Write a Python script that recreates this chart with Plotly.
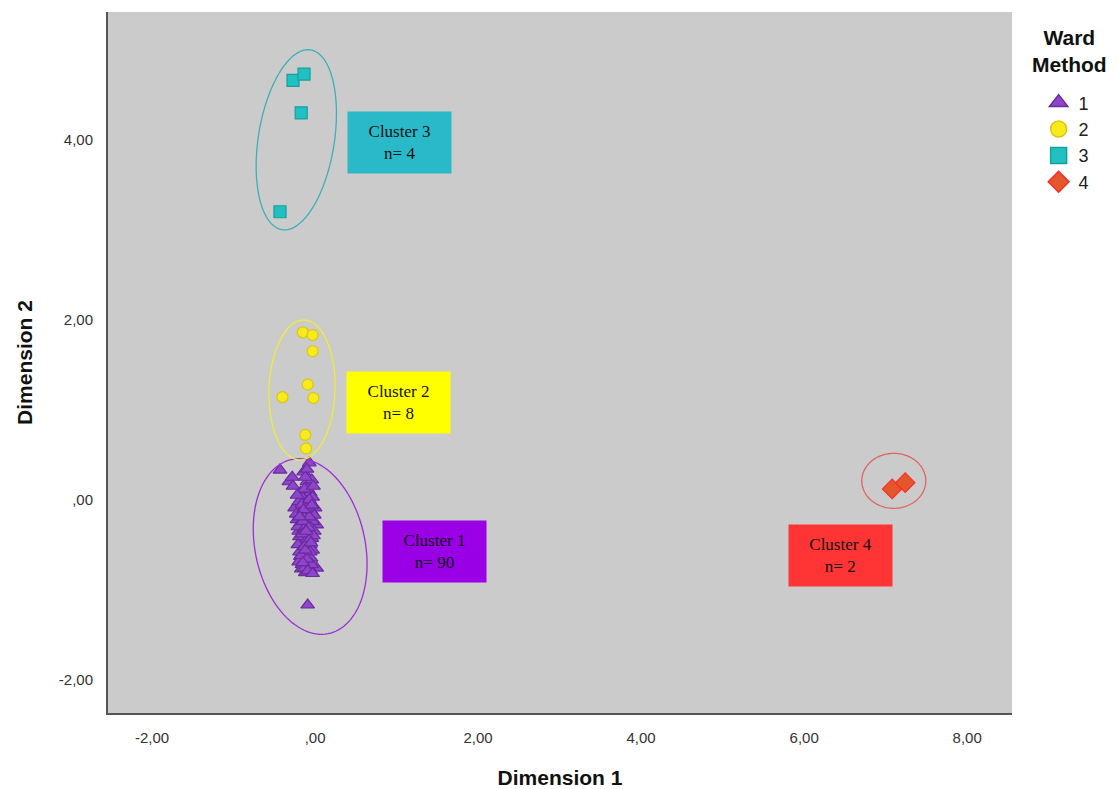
import numpy as np
import plotly.graph_objects as go

# Ward clustering of MDS coordinates (Dimension 1, Dimension 2)
c1_x = [-0.43, -0.14, -0.07, -0.32, -0.27, -0.10, -0.04, -0.18, -0.06, -0.25,
        -0.10, 0.00, -0.22, -0.06, 0.02, -0.20, -0.08, -0.16, -0.06, -0.18,
        -0.08, -0.16, -0.12, 0.02, -0.06, -0.09,
        -0.12, -0.09, -0.15, -0.03, -0.20, -0.12, -0.05, -0.17, -0.09, -0.01,
        -0.23, -0.13, -0.03, -0.18, -0.10, -0.05, -0.21, -0.14, -0.01, -0.11,
        -0.19, -0.04, -0.12, -0.21, -0.09, -0.15, -0.03, -0.19, -0.11, -0.05,
        -0.14, -0.20, -0.09, -0.17, -0.08, -0.13, -0.04, -0.16, -0.07, -0.13,
        -0.02, -0.22, -0.10, -0.28, -0.11, -0.07, -0.15, -0.02, -0.16, -0.07,
        -0.13, -0.06, -0.17, -0.10, -0.12, -0.08, -0.14, -0.04, -0.19, -0.11,
        -0.05, -0.15, -0.09, -0.03]
c1_y = [0.33, 0.31, 0.41, 0.20, 0.15, 0.20, 0.22, 0.08, 0.08, -0.09,
        -0.07, -0.09, -0.22, -0.22, -0.28, -0.35, -0.37, -0.46, -0.50, -0.63,
        -0.63, -0.72, -0.81, -0.76, -0.78, -1.17,
        0.25, 0.12, 0.02, 0.03, -0.02, -0.04, -0.12, -0.13, -0.15, -0.17,
        -0.16, -0.20, -0.24, -0.26, -0.28, -0.31, -0.30, -0.33, -0.35, -0.40,
        -0.41, -0.43, -0.47, -0.50, -0.53, -0.55, -0.56, -0.58, -0.60, -0.65,
        -0.67, -0.69, -0.70, -0.77, -0.74, -0.76, -0.72, -0.05, 0.00, 0.12,
        0.15, 0.05, 0.34, 0.25, -0.10, -0.19, -0.24, -0.40, -0.38, -0.45,
        -0.52, -0.58, -0.62, -0.66, -0.56, -0.31, -0.11, -0.06, -0.19, -0.35,
        -0.48, -0.70, -0.79, -0.82]

c2_x = [-0.15, -0.03, -0.03, -0.09, -0.40, -0.02, -0.12, -0.11]
c2_y = [1.86, 1.83, 1.65, 1.28, 1.14, 1.13, 0.72, 0.57]

c3_x = [-0.27, -0.135, -0.17, -0.43]
c3_y = [4.66, 4.73, 4.30, 3.20]

c4_x = [7.08, 7.24]
c4_y = [0.12, 0.19]

cluster_names = ["1", "2", "3", "4"]
tick_vals_x = [-2, 0, 2, 4, 6, 8]
tick_text_x = ["-2,00", ",00", "2,00", "4,00", "6,00", "8,00"]
tick_vals_y = [-2, 0, 2, 4]
tick_text_y = ["-2,00", ",00", "2,00", "4,00"]

box_text = ["Cluster 1<br>n= 90", "Cluster 2<br>n= 8", "Cluster 3<br>n= 4", "Cluster 4<br>n= 2"]

X_RANGE = [-2.54, 8.55]
Y_RANGE = [-2.37, 5.42]
PX_X = 81.5   # pixels per unit, x
PX_Y = 90.0   # pixels per unit, y

fig = go.Figure()

styles = [
    dict(symbol="triangle-up", color="#8d45c9", line="#6b2a9e", size=12),
    dict(symbol="circle", color="#f8ea1c", line="#d9c710", size=11),
    dict(symbol="square", color="#22c1c1", line="#179e9e", size=12),
    dict(symbol="diamond", color="#e2572b", line="#ff2a2a", size=15),
]
series = [(c1_x, c1_y), (c2_x, c2_y), (c3_x, c3_y), (c4_x, c4_y)]

for name, (xs, ys), st in zip(cluster_names, series, styles):
    fig.add_trace(go.Scatter(
        x=xs, y=ys, mode="markers", name=name, showlegend=False,
        marker=dict(symbol=st["symbol"], size=st["size"], color=st["color"],
                    line=dict(color=st["line"], width=1.2)),
    ))

# legend entries with larger swatches
for name, st in zip(cluster_names, styles):
    fig.add_trace(go.Scatter(
        x=[None], y=[None], mode="markers", name=name, showlegend=True,
        marker=dict(symbol=st["symbol"], size=17, color=st["color"],
                    line=dict(color=st["line"], width=1.5)),
    ))


def ellipse_path(cx, cy, a_px, b_px, theta_deg):
    """Ellipse outline given in screen pixels, returned in data units."""
    t = np.linspace(0, 2 * np.pi, 120)
    th = np.deg2rad(theta_deg)
    u = b_px * np.cos(t)
    v = a_px * np.sin(t)
    dx = u * np.cos(th) + v * np.sin(th)
    dy = -u * np.sin(th) + v * np.cos(th)
    xs = cx + dx / PX_X
    ys = cy + dy / PX_Y
    p = "M " + " L ".join(f"{x:.4f},{y:.4f}" for x, y in zip(xs, ys)) + " Z"
    return p


ellipses = [
    (-0.06, -0.52, 89, 55, -12, "#9b30d2"),
    (-0.16, 1.22, 70, 33, 2, "#eded3a"),
    (-0.23, 4.0, 91, 38, 9, "#3eafb6"),
    (7.10, 0.21, 27.5, 32, 0, "#e06464"),
]
for cx, cy, a, b, th, col in ellipses:
    fig.add_shape(type="path", path=ellipse_path(cx, cy, a, b, th),
                  line=dict(color=col, width=1.3), xref="x", yref="y")

box_pos = [(1.47, -0.58), (1.02, 1.08), (1.04, 3.97), (6.44, -0.62)]
box_col = ["#9a00e6", "#ffff00", "#29b9c9", "#ff3434"]
for (bx, by), txt, col in zip(box_pos, box_text, box_col):
    fig.add_annotation(x=bx, y=by, xref="x", yref="y", text=txt, showarrow=False,
                       bgcolor=col, width=95, height=53, borderpad=4,
                       font=dict(family="Liberation Serif", size=17, color="#111111"),
                       align="center", valign="middle")

# legend heading
fig.add_annotation(x=1.064, y=0.944, xref="paper", yref="paper",
                   text="<b>Ward<br>Method</b>", showarrow=False,
                   font=dict(family="Arial", size=21, color="#111111"),
                   align="center", xanchor="center", yanchor="middle")

fig.update_layout(
    width=1118, height=789, autosize=False,
    margin=dict(l=108, r=106, t=12, b=76),
    paper_bgcolor="white", plot_bgcolor="#cbcbcb",
    font=dict(family="Arial", color="#333333"),
    legend=dict(
        xref="container", yref="container",
        x=0.929, y=0.893, xanchor="left", yanchor="top",
        font=dict(family="Arial", size=18, color="#222222"),
        bgcolor="rgba(0,0,0,0)", tracegroupgap=0, itemwidth=30,
    ),
    xaxis=dict(
        range=X_RANGE, tickvals=tick_vals_x, ticktext=tick_text_x,
        showgrid=False, zeroline=False, showline=True, linecolor="#555555", linewidth=2,
        ticks="", ticklabelstandoff=10, tickfont=dict(size=15, color="#333333"),
        title=dict(text="<b>Dimension 1</b>", font=dict(size=21, color="#111111"), standoff=25),
        automargin=False,
    ),
    yaxis=dict(
        range=Y_RANGE, tickvals=tick_vals_y, ticktext=tick_text_y,
        showgrid=False, zeroline=False, showline=True, linecolor="#555555", linewidth=2,
        ticks="", ticklabelstandoff=10, tickfont=dict(size=15, color="#333333"),
        title=dict(text="<b>Dimension 2</b>", font=dict(size=21, color="#111111"), standoff=20),
        automargin=False,
    ),
)

fig.write_html("out.html")
